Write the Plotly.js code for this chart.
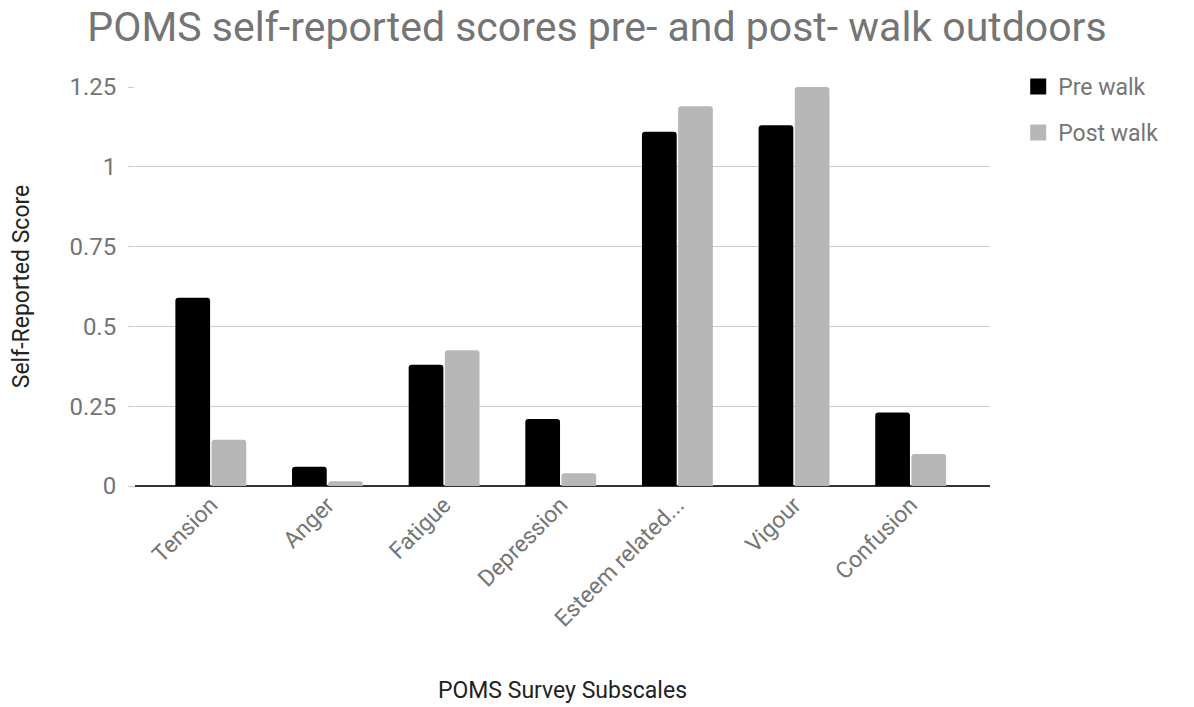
<!DOCTYPE html>
<html>
<head>
<meta charset="utf-8">
<script src="https://cdn.plot.ly/plotly-3.0.1.min.js"></script>
<style>html,body{margin:0;padding:0;background:#fff;}#chart{width:1194px;height:707px;}</style>
</head>
<body>
<div id="chart"></div>
<script>
const categories = ["Tension", "Anger", "Fatigue", "Depression", "Esteem related...", "Vigour", "Confusion"];
const preWalk = [0.59, 0.06, 0.38, 0.21, 1.11, 1.13, 0.23];
const postWalk = [0.145, 0.015, 0.425, 0.04, 1.19, 1.25, 0.10];
const seriesNames = ["Pre walk", "Post walk"];
const yTickVals = [0, 0.25, 0.5, 0.75, 1, 1.25];
const yTickText = ["0", "0.25", "0.5", "0.75", "1", "1.25"];

const colors = ["#000000", "#b7b7b7"];
const labelColor = "#757575";
const font = "Roboto, Arial, sans-serif";

const traces = [
  {type: "bar", x: categories, y: preWalk, name: seriesNames[0], marker: {color: colors[0], cornerradius: 3}, showlegend: false, hoverinfo: "x+y+name"},
  {type: "bar", x: categories, y: postWalk, name: seriesNames[1], marker: {color: colors[1], cornerradius: 3}, showlegend: false, hoverinfo: "x+y+name"},
  {type: "scatter", mode: "markers", x: [null], y: [null], name: seriesNames[0], legendgroup: "a", marker: {symbol: "square", size: 16, color: colors[0]}},
  {type: "scatter", mode: "markers", x: [null], y: [null], name: seriesNames[1], legendgroup: "b", marker: {symbol: "square", size: 16, color: colors[1]}}
];

const layout = {
  width: 1194, height: 707,
  paper_bgcolor: "#fff", plot_bgcolor: "#fff",
  margin: {l: 135, r: 204, t: 87, b: 221},
  font: {family: font, color: labelColor},
  title: {text: "POMS self-reported scores pre- and post- walk outdoors", font: {family: font, size: 41, color: labelColor}, x: 0.5, xanchor: "center", xref: "container", y: 0.962, yanchor: "middle"},
  barmode: "group", bargap: 0.38, bargroupgap: 0.04,
  xaxis: {
    type: "category", range: [-0.65, 6.68],
    tickangle: -45, tickfont: {family: font, size: 23, color: labelColor},
    showgrid: false, zeroline: false, showline: false, ticks: "",
    title: {text: "POMS Survey Subscales", font: {family: font, size: 23, color: "#222"}, standoff: 50}
  },
  yaxis: {
    range: [0, 1.25], tickvals: yTickVals, ticktext: yTickText,
    tickfont: {family: font, size: 24, color: labelColor},
    ticks: "outside", ticklen: 6, tickcolor: "#cccccc", ticklabelstandoff: 7,
    showgrid: true, gridcolor: "#cccccc", gridwidth: 1,
    zeroline: true, zerolinecolor: "#333333", zerolinewidth: 2,
    showline: false,
    title: {text: "Self-Reported Score", font: {family: font, size: 23, color: "#222"}, standoff: 33}
  },
  legend: {x: 1.033, xanchor: "left", y: 1.055, yanchor: "top", font: {family: font, size: 23, color: labelColor}, tracegroupgap: 13, itemwidth: 30, bgcolor: "rgba(0,0,0,0)"}
};

Plotly.newPlot("chart", traces, layout, {displayModeBar: false, staticPlot: true});
</script>
</body>
</html>
